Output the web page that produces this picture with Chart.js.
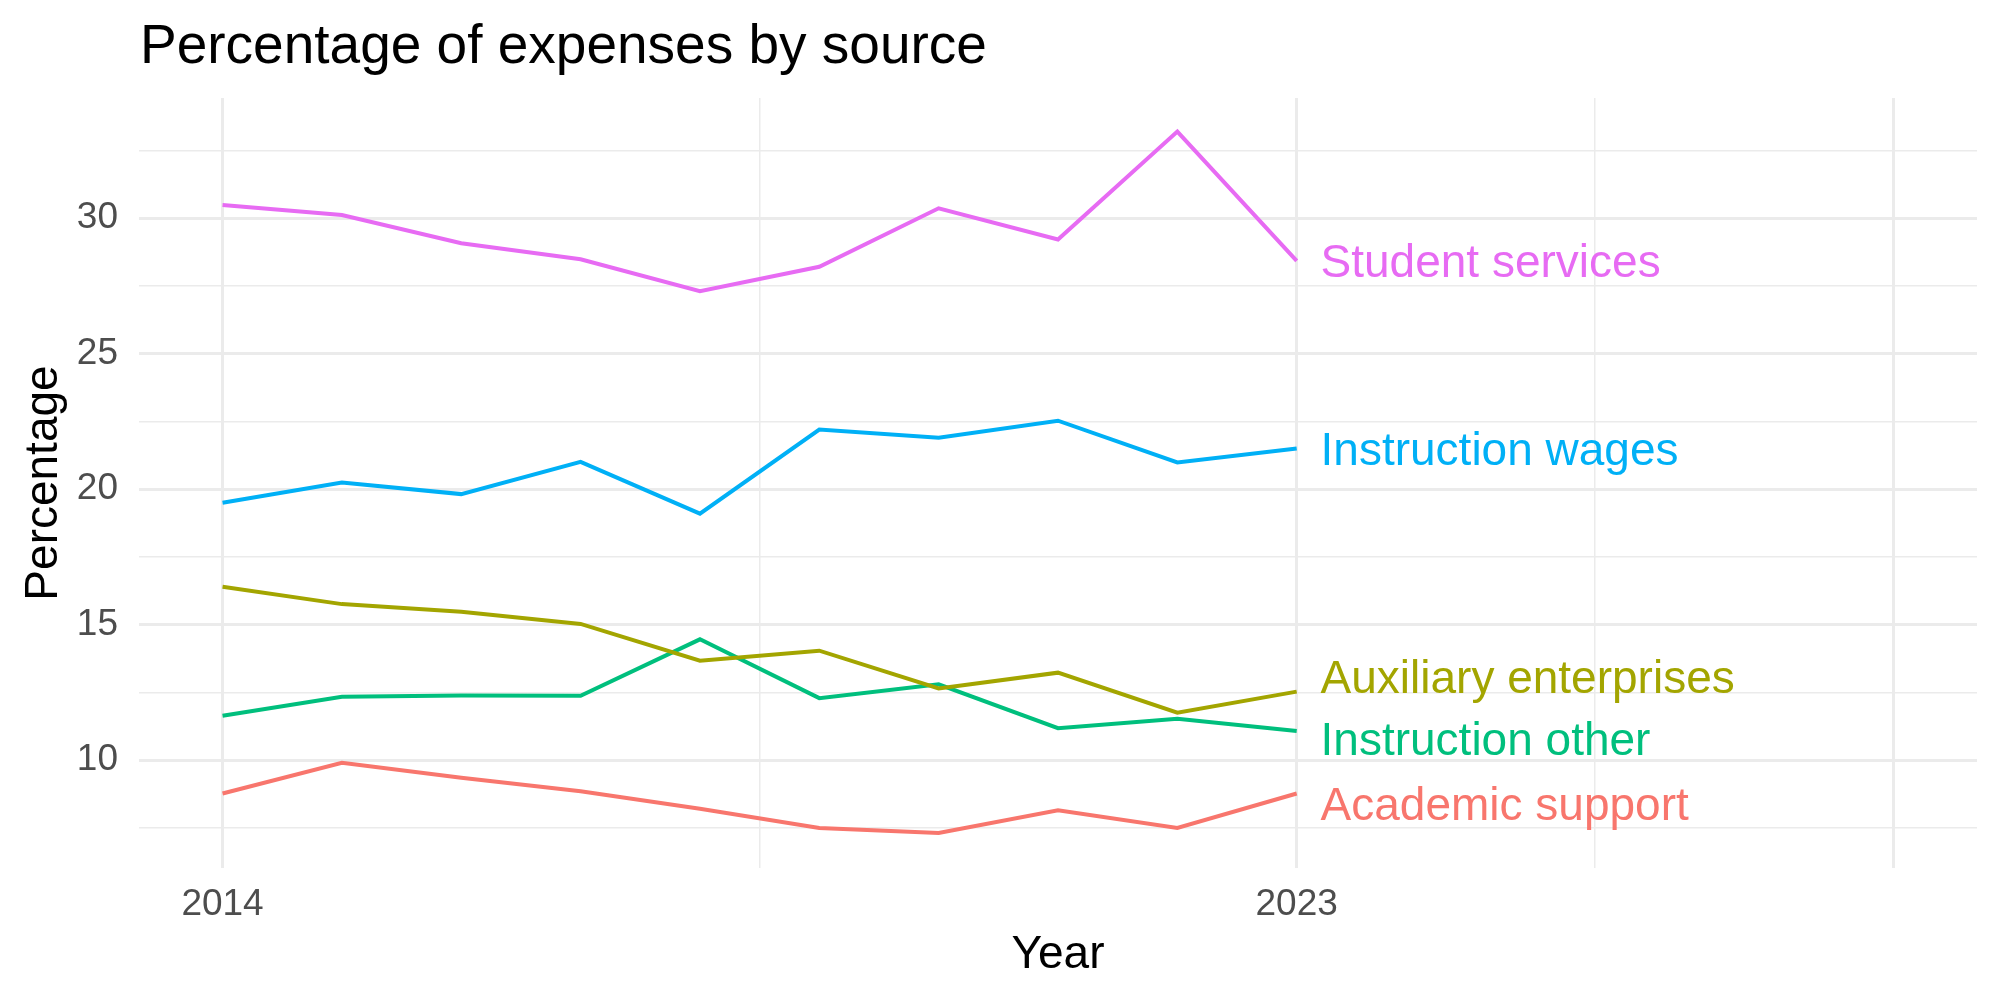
<!DOCTYPE html>
<html>
<head>
<meta charset="utf-8">
<script src="https://cdn.jsdelivr.net/npm/chart.js@4"></script>
<style>
  html, body { margin: 0; padding: 0; background: #fff; }
  #wrap { width: 2000px; height: 1000px; position: relative; }
</style>
</head>
<body>
<div id="wrap"><canvas id="c" width="2000" height="1000"></canvas></div>
<script>
// ---- data ----
const years = [2014, 2015, 2016, 2017, 2018, 2019, 2020, 2021, 2022, 2023];
const seriesNames = ["Academic support", "Auxiliary enterprises", "Instruction other", "Instruction wages", "Student services"];
const academicSupport     = [8.77, 9.90, 9.35, 8.85, 8.21, 7.50, 7.31, 8.15, 7.50, 8.77];
const auxiliaryEnterprises = [16.40, 15.76, 15.48, 15.03, 13.67, 14.04, 12.65, 13.23, 11.75, 12.53];
const instructionOther    = [11.64, 12.34, 12.39, 12.38, 14.46, 12.29, 12.80, 11.18, 11.53, 11.08];
const instructionWages    = [19.50, 20.25, 19.82, 21.01, 19.10, 22.20, 21.90, 22.53, 20.99, 21.50];
const studentServices     = [30.49, 30.12, 29.08, 28.49, 27.31, 28.21, 30.37, 29.22, 33.20, 28.43];
const seriesColors = ["#F8766D", "#A3A500", "#00BF7D", "#00B0F6", "#E76BF3"];
// end-of-line label positions (data units, after repel)
const labelX = 2023.2;
const labelY = [8.26, 12.95, 10.66, 21.36, 28.32];
// axis ticks
const xMajorTicks = [2014, 2023, 2028];
const xMinorTicks = [2018.5, 2025.5];
const xTickLabels = {2014: "2014", 2023: "2023"};
const yMajorTicks = [10, 15, 20, 25, 30];
const yMinorTicks = [7.5, 12.5, 17.5, 22.5, 27.5, 32.5];
const xLimits = [2013.3, 2028.7];
const yLimits = [6.02, 34.44];
const titleText = "Percentage of expenses by source";
const xTitle = "Year";
const yTitle = "Percentage";

const allSeries = [academicSupport, auxiliaryEnterprises, instructionOther, instructionWages, studentServices];
const FONT = "'Liberation Sans', Arial, Helvetica, sans-serif";

const datasets = allSeries.map((vals, i) => ({
  label: seriesNames[i],
  data: years.map((y, j) => ({x: y, y: vals[j]})),
  borderColor: seriesColors[i],
  backgroundColor: seriesColors[i],
  borderWidth: 4,
  pointRadius: 0,
  tension: 0,
  fill: false
}));

const textPlugin = {
  id: 'texts',
  afterDraw(chart) {
    const ctx = chart.ctx;
    const ca = chart.chartArea;
    const xs = chart.scales.x, ys = chart.scales.y;
    ctx.save();
    // title
    ctx.fillStyle = '#000';
    ctx.font = `55px ${FONT}`;
    ctx.textAlign = 'left';
    ctx.textBaseline = 'alphabetic';
    ctx.fillText(titleText, ca.left + 1, 63);
    // x title
    ctx.font = `46px ${FONT}`;
    ctx.textAlign = 'center';
    ctx.fillText(xTitle, (ca.left + ca.right) / 2, 968);
    // y title
    ctx.save();
    ctx.translate(57, (ca.top + ca.bottom) / 2);
    ctx.rotate(-Math.PI / 2);
    ctx.textAlign = 'center';
    ctx.textBaseline = 'alphabetic';
    ctx.fillText(yTitle, 0, 0);
    ctx.restore();
    // line labels
    ctx.font = `46px ${FONT}`;
    ctx.textAlign = 'left';
    ctx.textBaseline = 'middle';
    seriesNames.forEach((n, i) => {
      ctx.fillStyle = seriesColors[i];
      ctx.fillText(n, xs.getPixelForValue(labelX), ys.getPixelForValue(labelY[i]));
    });
    ctx.restore();
  }
};

const isMajor = (v, arr) => arr.some(a => Math.abs(a - v) < 1e-6);

new Chart(document.getElementById('c'), {
  type: 'line',
  data: { datasets },
  options: {
    responsive: false,
    animation: false,
    devicePixelRatio: 1,
    layout: { padding: { top: 98, right: 23, left: 0, bottom: 0 } },
    plugins: { legend: { display: false }, tooltip: { enabled: false }, title: { display: false } },
    scales: {
      x: {
        type: 'linear',
        min: xLimits[0], max: xLimits[1],
        afterBuildTicks(scale) {
          scale.ticks = [...xMajorTicks, ...xMinorTicks].sort((a, b) => a - b).map(v => ({value: v}));
        },
        afterFit(scale) { scale.height = 132; },
        border: { display: false },
        grid: {
          drawTicks: false,
          color: '#EBEBEB',
          lineWidth: ctx => isMajor(ctx.tick.value, xMajorTicks) ? 3 : 1.5
        },
        ticks: {
          padding: 15,
          color: '#4D4D4D',
          font: { family: FONT, size: 37 },
          maxRotation: 0,
          autoSkip: false,
          callback: v => xTickLabels[v] || ''
        }
      },
      y: {
        type: 'linear',
        min: yLimits[0], max: yLimits[1],
        afterBuildTicks(scale) {
          scale.ticks = [...yMajorTicks, ...yMinorTicks].sort((a, b) => a - b).map(v => ({value: v}));
        },
        afterFit(scale) { scale.width = 139; },
        border: { display: false },
        grid: {
          drawTicks: false,
          color: '#EBEBEB',
          lineWidth: ctx => isMajor(ctx.tick.value, yMajorTicks) ? 3 : 1.5
        },
        ticks: {
          padding: 21,
          color: '#4D4D4D',
          font: { family: FONT, size: 37 },
          autoSkip: false,
          callback: v => isMajor(v, yMajorTicks) ? String(v) : ''
        }
      }
    }
  },
  plugins: [textPlugin]
});
</script>
</body>
</html>
